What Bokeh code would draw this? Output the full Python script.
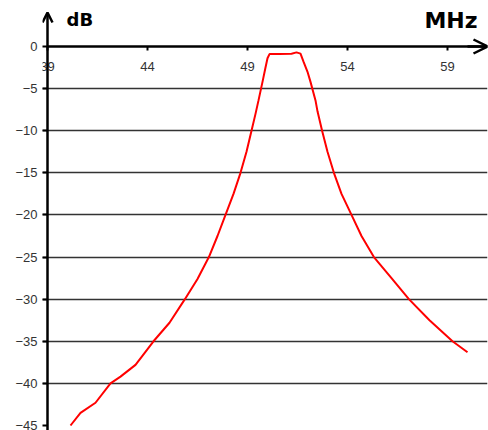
from bokeh.plotting import figure
from bokeh.models import FixedTicker, Arrow, OpenHead, Label, Range1d
from bokeh.embed import file_html
from bokeh.resources import INLINE

# Filter response (frequency in MHz, attenuation in dB)
freq_mhz = [40.15, 40.65, 41.4, 42.15, 42.65, 43.4, 44.3, 45.1, 45.87, 46.5,
            47.07, 47.5, 47.9, 48.3, 48.65, 48.95, 49.2, 49.4, 49.55, 49.75,
            49.9, 50.0, 50.1, 50.6, 51.2, 51.45, 51.65, 51.8, 52.0, 52.15,
            52.4, 52.5, 52.73, 53.0, 53.32, 53.7, 54.2, 54.7, 55.32, 56.2,
            57.07, 58.1, 59.25, 60.0]
level_db = [-45.0, -43.5, -42.3, -40.0, -39.2, -37.8, -35.0, -32.8, -30.0, -27.6,
            -25.0, -22.5, -20.0, -17.5, -15.0, -12.5, -10.0, -8.0, -6.4, -4.2,
            -2.5, -1.4, -0.9, -0.9, -0.85, -0.7, -0.85, -1.8, -3.0, -4.2,
            -6.4, -7.7, -10.0, -12.5, -15.0, -17.5, -20.0, -22.5, -25.0, -27.5,
            -30.0, -32.5, -35.0, -36.3]

x_ticks = [39, 44, 49, 54, 59]
y_ticks = [0, -5, -10, -15, -20, -25, -30, -35, -40, -45]
grid_ticks = [-5, -10, -15, -20, -25, -30, -35, -40]
x_min, x_max = 39, 61
y_min, y_max = -45, 0

y_range = Range1d(-45.594, 5.462)
p = figure(width=488, height=430, output_backend="svg", toolbar_location=None,
           x_range=Range1d(38.75, 61.0), y_range=y_range,
           x_axis_location="above")
p.min_border_left = 42
p.min_border_right = 1
p.min_border_top = 0
p.min_border_bottom = 0
p.outline_line_color = None
p.background_fill_color = "white"
p.border_fill_color = "white"

p.xgrid.visible = False
p.ygrid.ticker = FixedTicker(ticks=grid_ticks)
p.ygrid.grid_line_color = "#333333"
p.ygrid.grid_line_width = 1.5

for ax in (p.xaxis, p.yaxis):
    ax.axis_line_color = "black"
    ax.axis_line_width = 2.5
    ax.major_tick_line_color = "black"
    ax.major_tick_line_width = 2
    ax.minor_tick_line_color = None
    ax.major_label_text_font = "Liberation Sans"
    ax.major_label_text_font_size = "13px"
    ax.major_label_text_color = "#333333"

p.xaxis.ticker = FixedTicker(ticks=x_ticks)
p.xaxis.fixed_location = y_max
p.xaxis.bounds = (x_min, x_max)
p.xaxis.major_tick_in = 4
p.xaxis.major_tick_out = 0
p.xaxis.major_label_text_baseline = "top"
p.xaxis.major_label_standoff = -24

# left axis sits at the frame edge; its line is drawn by the arrow below
p.yaxis.ticker = FixedTicker(ticks=y_ticks)
p.yaxis.axis_line_color = None
p.yaxis.major_tick_in = 5
p.yaxis.major_tick_out = 0
p.yaxis.major_label_standoff = 5

p.line(freq_mhz, level_db, line_color="#ff0000", line_width=2)

# axis lines with arrow heads
p.add_layout(Arrow(x_start=x_min, y_start=y_range.start, x_end=x_min, y_end=4.04,
                   line_color="black", line_width=2.5,
                   end=OpenHead(size=10, line_color="black", line_width=2.5)))
p.add_layout(Arrow(x_start=60, y_start=y_max, x_end=x_max, y_end=y_max,
                   line_color="black", line_width=2.5,
                   end=OpenHead(size=14, line_color="black", line_width=2.5)))

p.add_layout(Label(x=39.95, y=1.9, text="dB", text_font="DejaVu Sans",
                   text_font_style="bold", text_font_size="18px",
                   text_color="black"))
p.add_layout(Label(x=60.5, y=1.55, text="MHz", text_font="DejaVu Sans",
                   text_font_style="bold", text_font_size="22px",
                   text_color="black", text_align="right"))

open("out.html", "w").write(file_html(p, INLINE))
